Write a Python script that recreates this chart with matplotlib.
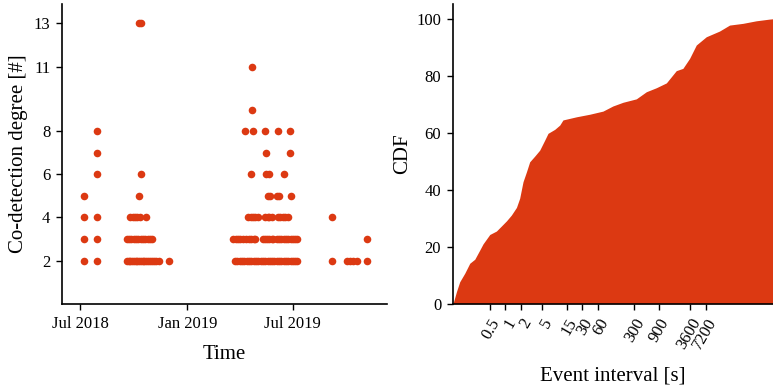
import numpy as np
import pandas as pd
import matplotlib
matplotlib.use("Agg")
from matplotlib import pyplot as plt
import matplotlib.dates as mdates

plt.rcParams['font.family'] = ['Liberation Serif', 'DejaVu Serif']

RED = '#dc3912'

# co-detection events, grouped by degree
deg_dates = {
    2: ['2018-07-07', '2018-07-30', '2018-09-19', '2018-09-22', '2018-09-25', '2018-09-28',
        '2018-10-01', '2018-10-04', '2018-10-07', '2018-10-10', '2018-10-13', '2018-10-16',
        '2018-10-19', '2018-10-22', '2018-10-25', '2018-10-28', '2018-11-01', '2018-11-05',
        '2018-11-09', '2018-11-13', '2018-11-30',
        '2019-03-24', '2019-03-28', '2019-04-01', '2019-04-05', '2019-04-09', '2019-04-13',
        '2019-04-17', '2019-04-21', '2019-04-25', '2019-04-29', '2019-05-03', '2019-05-07',
        '2019-05-11', '2019-05-15', '2019-05-19', '2019-05-23', '2019-05-27', '2019-05-31',
        '2019-06-04', '2019-06-08', '2019-06-12', '2019-06-16', '2019-06-20', '2019-06-24',
        '2019-06-28', '2019-07-02', '2019-07-06', '2019-07-09',
        '2019-09-07', '2019-10-03', '2019-10-08', '2019-10-13', '2019-10-20', '2019-11-06'],
    3: ['2018-07-07', '2018-07-30', '2018-09-19', '2018-09-23', '2018-09-27', '2018-10-01',
        '2018-10-05', '2018-10-09', '2018-10-13', '2018-10-17', '2018-10-21', '2018-10-25',
        '2018-10-29', '2018-11-01',
        '2019-03-21', '2019-03-25', '2019-03-29', '2019-04-02', '2019-04-06', '2019-04-12',
        '2019-04-17', '2019-04-21', '2019-04-25', '2019-04-27',
        '2019-05-11', '2019-05-14', '2019-05-18', '2019-05-22', '2019-05-26', '2019-05-28',
        '2019-06-04', '2019-06-08', '2019-06-12', '2019-06-16', '2019-06-20', '2019-06-24',
        '2019-06-28', '2019-07-02', '2019-07-06', '2019-07-09', '2019-11-06'],
    4: ['2018-07-07', '2018-07-30', '2018-09-25', '2018-09-29', '2018-10-03', '2018-10-07',
        '2018-10-12', '2018-10-22',
        '2019-04-16', '2019-04-20', '2019-04-24', '2019-04-28', '2019-05-03',
        '2019-05-15', '2019-05-19', '2019-05-22', '2019-05-26',
        '2019-06-06', '2019-06-10', '2019-06-14', '2019-06-18', '2019-06-24', '2019-09-07'],
    5: ['2018-07-07', '2018-10-10', '2019-05-20', '2019-05-23', '2019-06-05', '2019-06-08',
        '2019-06-28'],
    6: ['2018-07-30', '2018-10-14', '2019-04-20', '2019-05-16', '2019-05-22', '2019-06-17'],
    7: ['2018-07-30', '2019-05-16', '2019-06-27'],
    8: ['2018-07-30', '2019-04-10', '2019-04-24', '2019-05-15', '2019-06-06', '2019-06-27'],
    9: ['2019-04-23'],
    11: ['2019-04-23'],
    13: ['2018-10-10', '2018-10-13'],
}

degree_ticks = [2, 4, 6, 8, 11, 13]

# CDF of event intervals
interval_s = [0.098, 0.114, 0.132, 0.165, 0.206, 0.257, 0.32, 0.371, 0.5, 0.67, 0.84,
              1.05, 1.3, 1.63, 1.88, 2.18, 2.54, 2.93, 3.66, 4.57, 5.7, 6.6, 8.9, 11.1,
              12.8, 23.2, 41.8, 75.3, 117, 183, 330, 515, 801, 1250, 1940, 2600, 3500,
              4710, 7330, 13200, 20600, 37100, 67100, 121000, 138000]
cdf_pct = [0.0, 4.2, 7.7, 10.7, 14.2, 15.6, 18.8, 21.0, 24.3, 25.5, 27.3,
           29.1, 31.1, 33.8, 37.0, 42.8, 46.3, 49.8, 51.8, 53.9, 57.4, 59.8, 61.2, 62.7,
           64.5, 65.6, 66.5, 67.6, 69.4, 70.7, 71.9, 74.4, 75.8, 77.5, 81.8, 82.6, 86.1,
           90.8, 93.7, 95.7, 97.8, 98.4, 99.3, 99.9, 100.0]
interval_ticks = [0.5, 1, 2, 5, 15, 30, 60, 300, 900, 3600, 7200]
interval_labels = ['0.5', '1', '2', '5', '15', '30', '60', '300', '900', '3600', '7200']

dates = []
degrees = []
for d, ds in deg_dates.items():
    dates += ds
    degrees += [d] * len(ds)
dates = pd.to_datetime(dates)

W, H = 773, 388
fig = plt.figure(figsize=(W / 100, H / 100), dpi=100)
bottom = 1 - 303.7 / H
height = (303.7 - 4) / H
ax1 = fig.add_axes([62.3 / W, bottom, (386.7 - 62.3) / W, height])
ax2 = fig.add_axes([453 / W, bottom, (772.5 - 453) / W, height])

for ax in (ax1, ax2):
    for s in ('top', 'right'):
        ax.spines[s].set_visible(False)
    for s in ('left', 'bottom'):
        ax.spines[s].set_linewidth(1.2)
    ax.tick_params(direction='out', length=4.5, width=1, labelsize=12, pad=4)

# left: scatter
ax1.scatter(dates, degrees, s=30, color=RED, linewidths=0, zorder=3)
ax1.set_ylim(0, 13.9)
ax1.set_yticks(degree_ticks)
ax1.set_xlim(pd.Timestamp('2018-05-31'), pd.Timestamp('2019-12-10'))
ax1.set_xticks(pd.to_datetime(['2018-07-01', '2019-01-01', '2019-07-01']))
ax1.xaxis.set_major_formatter(mdates.DateFormatter('%b %Y'))
ax1.set_xlabel('Time', fontsize=15, labelpad=10)
ax1.set_ylabel('Co-detection degree [#]', fontsize=15, labelpad=4)

# right: CDF
ax2.fill_between(interval_s, cdf_pct, 0, color=RED, linewidth=0)
ax2.set_xscale('log')
ax2.set_xlim(0.098, 138000)
ax2.set_ylim(0, 105.2)
ax2.set_yticks([0, 20, 40, 60, 80, 100])
ax2.set_xticks(interval_ticks)
ax2.set_xticklabels(interval_labels, rotation=60, ha='right', rotation_mode='anchor')
ax2.xaxis.set_minor_locator(matplotlib.ticker.NullLocator())
ax2.set_xlabel('Event interval [s]', fontsize=15, labelpad=10)
ax2.set_ylabel('CDF', fontsize=15, labelpad=3)

fig.savefig('out.png', dpi=100)
